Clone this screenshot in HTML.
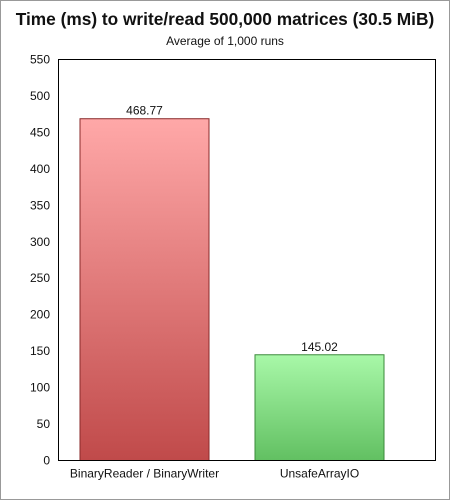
<!DOCTYPE html>
<html><head><meta charset="utf-8"><style>
body{margin:0;background:#fff}
svg{display:block;font-family:"Liberation Sans","DejaVu Sans",sans-serif}
</style></head><body>
<svg width="450" height="500" xmlns="http://www.w3.org/2000/svg">
<defs>
<linearGradient id="gr" x1="0" y1="0" x2="0" y2="1"><stop offset="0" stop-color="#ffa8a8"/><stop offset="1" stop-color="#c04a4a"/></linearGradient>
<linearGradient id="gg" x1="0" y1="0" x2="0" y2="1"><stop offset="0" stop-color="#a8f8a8"/><stop offset="1" stop-color="#62c062"/></linearGradient>
</defs>
<rect x="0.5" y="0.5" width="449" height="499" fill="#fff" stroke="#999"/>
<text x="225" y="25" text-anchor="middle" font-size="17.3" font-weight="bold" fill="#111">Time (ms) to write/read 500,000 matrices (30.5 MiB)</text>
<text x="225" y="45" text-anchor="middle" font-size="12" fill="#111">Average of 1,000 runs</text>
<g id="ticks"></g>
<g id="bars"></g>
<rect x="58.5" y="59.5" width="377" height="401" fill="none" stroke="#000"/>
</svg>
<script>
const categories=["BinaryReader / BinaryWriter","UnsafeArrayIO"];
const values=[468.77,145.02];
const labels=["468.77","145.02"];
const tickValues=[0,50,100,150,200,250,300,350,400,450,500,550];
const fills=["url(#gr)","url(#gg)"];
const strokes=["#8a2a2a","#3a8a3a"];
const NS="http://www.w3.org/2000/svg";
const L=58.5,R=435.5,T=59.5,B=460.5,maxV=550;
const y=v=>B-(v/maxV)*(B-T);
const step=175,firstCenter=144.5,w=129;
const xc=i=>firstCenter+step*i;
const tg=document.getElementById('ticks'),bg=document.getElementById('bars');
tickValues.forEach(v=>{const t=document.createElementNS(NS,'text');
t.setAttribute('x',50);t.setAttribute('y',y(v)+4);t.setAttribute('text-anchor','end');t.setAttribute('font-size','12');t.setAttribute('fill','#111');t.textContent=v;


tg.appendChild(t);});
categories.forEach((c,i)=>{
const bx=xc(i)-w/2;
const r=document.createElementNS(NS,'rect');
r.setAttribute('x',bx);r.setAttribute('y',y(values[i]));r.setAttribute('width',w);r.setAttribute('height',B-y(values[i]));
r.setAttribute('fill',fills[i]);r.setAttribute('stroke',strokes[i]);


bg.appendChild(r);
const vl=document.createElementNS(NS,'text');
vl.setAttribute('x',xc(i));vl.setAttribute('y',y(values[i])-4);vl.setAttribute('text-anchor','middle');vl.setAttribute('font-size','12');vl.setAttribute('fill','#111');vl.textContent=labels[i];


bg.appendChild(vl);
const cl=document.createElementNS(NS,'text');
cl.setAttribute('x',xc(i));cl.setAttribute('y',B+17);cl.setAttribute('text-anchor','middle');cl.setAttribute('font-size','12');cl.setAttribute('fill','#111');cl.textContent=c;


bg.appendChild(cl);
});
</script>
</body></html>
